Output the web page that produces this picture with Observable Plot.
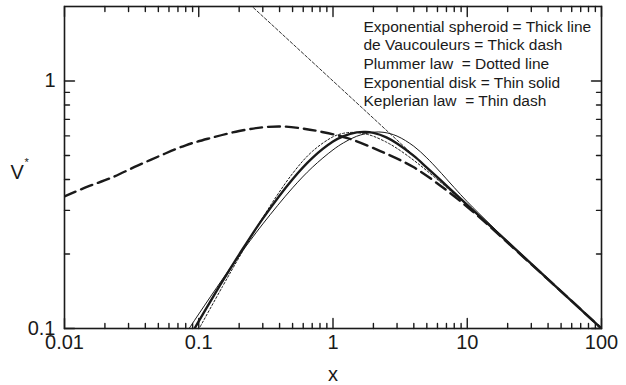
<!DOCTYPE html>
<html><head><meta charset="utf-8">
<script src="https://cdn.jsdelivr.net/npm/d3@7"></script>
<script src="https://cdn.jsdelivr.net/npm/@observablehq/plot@0.6"></script>
<style>
html,body{margin:0;padding:0;background:#fff;}
svg text{white-space:pre;}
</style></head><body><div id="chart"></div>
<script>
// ---- tick values and labels ----
const xTicks = [0.01, 0.1, 1, 10, 100];
const xTickLabels = ["0.01", "0.1", "1", "10", "100"];
const xMinorTicks = [0.02,0.03,0.04,0.05,0.06,0.07,0.08,0.09,
                     0.2,0.3,0.4,0.5,0.6,0.7,0.8,0.9,
                     2,3,4,5,6,7,8,9,
                     20,30,40,50,60,70,80,90];
const yTicks = [0.1, 1];
const yTickLabels = ["0.1", "1"];
const yMinorTicks = [0.2,0.3,0.4,0.5,0.6,0.7,0.8,0.9];

// ---- series ----
const spheroidX = [0.08, 0.09, 0.1, 0.15, 0.2, 0.3, 0.5, 0.7, 1, 1.2, 1.5, 1.75, 2, 2.5, 3, 4, 5, 7, 10, 20, 50, 100];
const spheroidV = [0.087, 0.097, 0.107, 0.155, 0.199, 0.278, 0.401, 0.488, 0.569, 0.599, 0.620, 0.623, 0.617, 0.592, 0.559, 0.498, 0.447, 0.378, 0.316, 0.2236, 0.1414, 0.1];

const deVaucX = [0.01, 0.015, 0.022, 0.035, 0.052, 0.08, 0.122, 0.2, 0.3, 0.42, 0.6, 0.8, 1.28, 2.25, 3.97, 7, 11, 16, 25, 50, 100];
const deVaucV = [0.342, 0.375, 0.405, 0.455, 0.500, 0.550, 0.588, 0.628, 0.650, 0.655, 0.642, 0.625, 0.588, 0.521, 0.449, 0.362, 0.297, 0.248, 0.199, 0.1413, 0.1];

const plummerX = [0.09, 0.1, 0.15, 0.2, 0.3, 0.5, 0.7, 1, 1.2, 1.414, 1.7, 2, 2.5, 3, 4, 5, 7, 10, 20, 50, 100];
const plummerV = [0.0895, 0.0993, 0.1475, 0.194, 0.281, 0.423, 0.519, 0.595, 0.615, 0.620, 0.613, 0.598, 0.566, 0.534, 0.478, 0.434, 0.372, 0.314, 0.223, 0.1414, 0.1];

const diskX = [0.08, 0.1, 0.15, 0.2, 0.3, 0.5, 0.7, 1, 1.2, 1.5, 2, 2.4, 3, 4, 5, 6, 8, 10, 15, 20, 30, 50, 100];
const diskV = [0.0953, 0.1144, 0.158, 0.197, 0.2645, 0.370, 0.4475, 0.527, 0.563, 0.598, 0.621, 0.620, 0.599, 0.545, 0.489, 0.441, 0.371, 0.3254, 0.2617, 0.2253, 0.1832, 0.1415, 0.1];

const keplerX = [0.24, 0.5, 1, 2, 5, 10, 20, 50, 100];
const keplerV = [2.04, 1.414, 1.0, 0.707, 0.447, 0.316, 0.2236, 0.1414, 0.1];

const legendLines = [
  "Exponential spheroid = Thick line",
  "de Vaucouleurs = Thick dash",
  "Plummer law  = Dotted line",
  "Exponential disk = Thin solid",
  "Keplerian law  = Thin dash"
];

const pts = (xs, vs) => xs.map((x, i) => ({x, v: vs[i]}));
const font = "'Liberation Sans', Arial, Helvetica, sans-serif";
const ink = "#1a1a1a";

// inward tick marks drawn as zero-width spikes anchored on the frame
const ticksX = (ticks, side, len) => Plot.vector(ticks, {
  x: d => d, frameAnchor: side, rotate: side === "bottom" ? 0 : 180, length: len,
  shape: "spike", r: 0, anchor: "start", stroke: ink, fill: "none", strokeWidth: 1.4
});
const ticksY = (ticks, side, len) => Plot.vector(ticks, {
  y: d => d, frameAnchor: side, rotate: side === "left" ? 90 : -90, length: len,
  shape: "spike", r: 0, anchor: "start", stroke: ink, fill: "none", strokeWidth: 1.4
});

const chart = Plot.plot({
  width: 626,
  height: 385,
  marginLeft: 64,
  marginRight: 25,
  marginTop: 6,
  marginBottom: 57,
  style: {fontFamily: font, color: ink, background: "#fff"},
  x: {type: "log", domain: [0.01, 100]},
  y: {type: "log", domain: [0.1, 2]},
  marks: [
    // curves
    Plot.line(pts(deVaucX, deVaucV), {x: "x", y: "v", stroke: ink, strokeWidth: 2.4, strokeDasharray: "12,6", curve: "catmull-rom", clip: true}),
    Plot.line(pts(diskX, diskV), {x: "x", y: "v", stroke: ink, strokeWidth: 1, curve: "catmull-rom", clip: true}),
    Plot.line(pts(plummerX, plummerV), {x: "x", y: "v", stroke: ink, strokeWidth: 1, strokeDasharray: "2,2", curve: "catmull-rom", clip: true}),
    Plot.line(pts(spheroidX, spheroidV), {x: "x", y: "v", stroke: ink, strokeWidth: 2.4, curve: "catmull-rom", clip: true}),
    Plot.line(pts(keplerX, keplerV), {x: "x", y: "v", stroke: ink, strokeWidth: 0.9, strokeDasharray: "3,2", clip: true}),
    // frame
    Plot.frame({stroke: ink, strokeWidth: 1.6}),
    // inward ticks
    ticksX(xTicks, "bottom", 10), ticksX(xTicks, "top", 10),
    ticksX(xMinorTicks, "bottom", 5), ticksX(xMinorTicks, "top", 5),
    ticksY(yTicks, "left", 10), ticksY(yTicks, "right", 10),
    ticksY(yMinorTicks, "left", 5), ticksY(yMinorTicks, "right", 5),
    // tick labels
    Plot.axisX({anchor: "bottom", ticks: xTicks, tickSize: 0, tickPadding: 6, label: null, fontSize: 20, fill: ink,
      tickFormat: d => xTickLabels[xTicks.indexOf(d)]}),
    Plot.axisY({anchor: "left", ticks: yTicks, tickSize: 0, tickPadding: 9, label: null, fontSize: 20, fill: ink,
      tickFormat: d => yTickLabels[yTicks.indexOf(d)]}),
    // axis titles
    Plot.text(["x"], {frameAnchor: "bottom", dy: 46, fontSize: 20, fill: ink, lineAnchor: "middle"}),
    Plot.text(["V"], {frameAnchor: "left", dx: -54, dy: 5, textAnchor: "start", fontSize: 20, fill: ink}),
    Plot.text(["*"], {frameAnchor: "left", dx: -40, dy: -5, textAnchor: "start", fontSize: 11, fill: ink}),
    // legend text
    Plot.text([legendLines.join("\n")], {frameAnchor: "top-left", dx: 299, dy: 12, lineAnchor: "top", textAnchor: "start",
      lineHeight: 1.2, fontSize: 15.5, fill: ink})
  ]
});
document.getElementById("chart").appendChild(chart);
</script></body></html>
